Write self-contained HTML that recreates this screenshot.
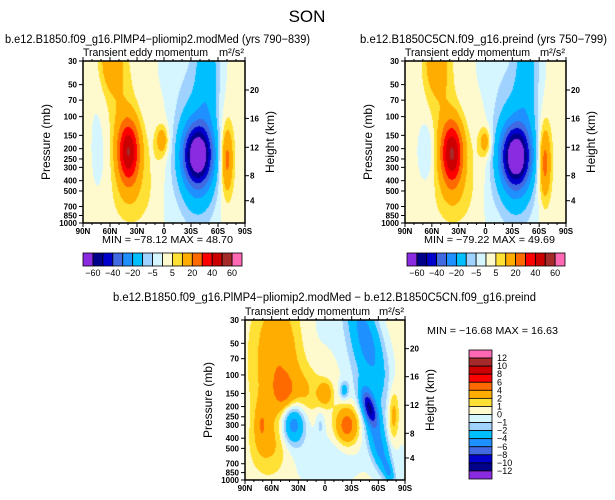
<!DOCTYPE html>
<html><head><meta charset="utf-8">
<style>
body{margin:0;background:#fff;width:615px;height:500px;overflow:hidden;position:relative;font-family:"Liberation Sans",sans-serif}
canvas{position:absolute}
svg{position:absolute;left:0;top:0}
text{font-family:"Liberation Sans",sans-serif}
</style></head>
<body>
<canvas id="c1" width="162" height="162" style="left:83px;top:61px"></canvas>
<canvas id="c2" width="161" height="162" style="left:405px;top:61px"></canvas>
<canvas id="c3" width="160" height="160" style="left:245px;top:320px"></canvas>
<svg id="ov" width="615" height="500"></svg>
<script>
// ---- data ----
const levelsTop=[-60,-50,-40,-30,-20,-10,-5,0,5,10,20,30,40,50,60];
const levelsDiff=[-12,-10,-8,-6,-4,-2,-1,0,1,2,4,6,8,10,12];
const colors=['#8a2be2','#00008b','#0000cd','#4169e1','#1e90ff','#00bfff','#a0d2ff','#d6f6ff','#fffacd','#ffe135','#ffad00','#ff6a00','#ff0000','#cc0000','#a52a2a','#ff69b4'];
const topLabels=['-60','-40','-20','-5','5','20','40','60'];
const diffLabels=['12','10','8','6','4','2','1','0','-1','-2','-4','-6','-8','-10','-12'];
const latLabels=['90N','60N','30N','0','30S','60S','90S'];
const presTicks=[30,50,70,100,150,200,250,300,400,500,700,850,1000];
const heightTicks=[4,8,12,16,20];
const leftBase=1;
const leftCx=[0.28,0.17,0.22,0.30,0.49,0.47,0.71,0.71,0.77,0.65,0.89,0.89,0.10,0.52];
const leftCy=[0.56,0.00,0.20,0.85,0.49,0.55,0.58,0.62,0.00,0.10,0.61,0.60,0.50,0.80];
const leftSx=[0.05,0.05,0.07,0.10,0.025,0.05,0.06,0.09,0.05,0.12,0.025,0.05,0.04,0.04];
const leftSy=[0.14,0.12,0.20,0.15,0.06,0.20,0.12,0.25,0.30,0.30,0.14,0.25,0.30,0.20];
const leftAmp=[48,14,7,6,14,4,-55,-25,-15,-4,20,5,-2.5,-2];
const rightBase=1;
const rightCx=[0.29,0.19,0.22,0.30,0.50,0.47,0.69,0.69,0.76,0.63,0.87,0.87,0.13,0.52];
const rightCy=[0.57,0.00,0.20,0.85,0.50,0.55,0.59,0.62,0.00,0.10,0.63,0.60,0.55,0.80];
const rightSx=[0.05,0.05,0.07,0.10,0.025,0.05,0.06,0.09,0.05,0.12,0.025,0.05,0.03,0.04];
const rightSy=[0.14,0.12,0.20,0.15,0.06,0.20,0.12,0.25,0.30,0.30,0.15,0.25,0.12,0.20];
const rightAmp=[49,14,7,6,14,4,-56,-25,-14,-4,21,5,-7,-2];
const diffBase=0.4;
const diffCx=[0.20,0.24,0.10,0.35,0.50,0.30,0.47,0.64,0.78,0.76,0.84,0.90,0.62,0.93,0.50,0.45,0.15,0.78];
const diffCy=[0.25,0.45,0.65,0.45,0.46,0.65,0.65,0.66,0.55,0.10,0.80,0.95,0.44,0.60,0.88,0.05,0.80,0.45];
const diffSx=[0.10,0.04,0.03,0.10,0.03,0.05,0.02,0.05,0.03,0.065,0.04,0.02,0.02,0.025,0.15,0.1,0.08,0.09];
const diffSy=[0.28,0.07,0.10,0.10,0.05,0.09,0.06,0.08,0.08,0.22,0.12,0.05,0.04,0.12,0.12,0.15,0.12,0.35];
const diffAmp=[3.4,2.2,2.5,1.5,3,-6,-1.5,5,-9,-4.5,-4,-3,-3,3,-1.2,-0.5,1.5,-1.8];
const diffSkew=0.25;
function field(x,y,base,cx,cy,sx,sy,a,skew){
  let v=base;
  for(let i=0;i<cx.length;i++){
    let xx=x; if(skew && a[i]<0 && cx[i]>0.7) xx=x-skew*(y-cy[i]);
    const dx=(xx-cx[i])/sx[i],dy=(y-cy[i])/sy[i];
    v+=a[i]*Math.exp(-0.5*(dx*dx+dy*dy));
  }
  return v;
}
function hex(c){return [parseInt(c.substr(1,2),16),parseInt(c.substr(3,2),16),parseInt(c.substr(5,2),16)];}
const rgb=colors.map(hex);
function paint(id,levels,base,cx,cy,sx,sy,a,skew){
  const cv=document.getElementById(id),ctx=cv.getContext('2d');
  const W=cv.width,H=cv.height,img=ctx.createImageData(W,H);
  for(let j=0;j<H;j++)for(let i=0;i<W;i++){
    const v=field(i/(W-1),j/(H-1),base,cx,cy,sx,sy,a,skew);
    let k=0;while(k<levels.length&&v>=levels[k])k++;
    const c=rgb[k],p=(j*W+i)*4;
    img.data[p]=c[0];img.data[p+1]=c[1];img.data[p+2]=c[2];img.data[p+3]=255;
  }
  ctx.putImageData(img,0,0);
}
paint('c1',levelsTop,leftBase,leftCx,leftCy,leftSx,leftSy,leftAmp,0);
paint('c2',levelsTop,rightBase,rightCx,rightCy,rightSx,rightSy,rightAmp,0);
paint('c3',levelsDiff,diffBase,diffCx,diffCy,diffSx,diffSy,diffAmp,diffSkew);
const NS='http://www.w3.org/2000/svg',ov=document.getElementById('ov');
function el(tag,at,txt){const e=document.createElementNS(NS,tag);for(const k in at)e.setAttribute(k,at[k]);if(txt!==undefined)e.textContent=txt;ov.appendChild(e);return e;}
function txt(x,y,s,size,anchor,name,extra){
  const t=el('text',Object.assign({x:x,y:y,'font-size':size,'text-anchor':anchor||'start',fill:'#000'},extra||{}),s);
  
  
  return t;
}
function fit(x,y,s,size,len,name){
  return txt(x,y,s,size,'start',name,{textLength:len,lengthAdjust:'spacingAndGlyphs','xml:space':'preserve'});
}
const hKm={4:200.7,8:175.7,12:147.3,16:118.4,20:90};
function axes(L,T,W,H,pfx){
  const fr=el('rect',{x:L,y:T,width:W,height:H,fill:'none',stroke:'#000','stroke-width':1.5});
  
  
  const yOf=p=>T+H*Math.log(p/30)/Math.log(1000/30);
  presTicks.forEach(p=>{
    const y=yOf(p);
    el('line',{x1:L-4,x2:L,y1:y,y2:y,stroke:'#000'});
    txt(L-6,y+3,String(p),8,'end',pfx+'-pressure-tick',{'font-weight':'bold'});
  });
  for(let i=0;i<7;i++){
    const x=L+W*i/6;
    el('line',{x1:x,x2:x,y1:T+H,y2:T+H+4,stroke:'#000'});
    el('line',{x1:x,x2:x,y1:T-4,y2:T,stroke:'#000'});
    for(let m=1;m<3&&i<6;m++){const xm=x+W*m/18;el('line',{x1:xm,x2:xm,y1:T+H,y2:T+H+2,stroke:'#000'});el('line',{x1:xm,x2:xm,y1:T-2,y2:T,stroke:'#000'});}
    txt(x,T+H+11,latLabels[i],8,'middle',pfx+'-lat-tick',{'font-weight':'bold'});
  }
  heightTicks.forEach(h=>{
    const y=T+(hKm[h]-61)*H/162;
    el('line',{x1:L+W,x2:L+W+4,y1:y,y2:y,stroke:'#000'});
    txt(L+W+5,y+3,String(h),8,'start',pfx+'-height-tick',{'font-weight':'bold'});
  });
  txt(L-33,T+H/2,'Pressure (mb)',12,'middle',pfx+'-y-axis-title',{transform:`rotate(-90 ${L-33} ${T+H/2})`});
  txt(L+W+29,T+H/2,'Height (km)',12,'middle',pfx+'-y2-axis-title',{transform:`rotate(-90 ${L+W+29} ${T+H/2})`});
  fit(L,T-5,'Transient eddy momentum',11,125,pfx+'-variable-title');
  txt(L+W-1,T-5,'m²/s²',11,'end',pfx+'-units');
}
axes(83,61,162,162,'left');
axes(405,61,161,162,'right');
axes(245,320,160,160,'diff');
txt(307,22,'SON',17,'middle','main-title');
fit(5,43,'b.e12.B1850.f09_g16.PlMP4−pliomip2.modMed (yrs 790−839)',11.5,305,'left-run-title');
fit(360,43,'b.e12.B1850C5CN.f09_g16.preind (yrs 750−799)',11.5,247,'right-run-title');
fit(113,301,'b.e12.B1850.f09_g16.PlMP4−pliomip2.modMed − b.e12.B1850C5CN.f09_g16.preind',11.5,423,'diff-run-title');
fit(102,243,'MIN = −78.12   MAX =  48.70',10,131,'left-minmax');
fit(424,243,'MIN = −79.22   MAX =  49.69',10,131,'right-minmax');
fit(427,334,'MIN = −16.68   MAX =  16.63',10,131,'diff-minmax');
function hbar(L,T,W,H,pfx){
  const bw=W/16;
  for(let i=0;i<16;i++){
    const r=el('rect',{x:L+i*bw,y:T,width:bw,height:H,fill:colors[i],stroke:'#000','stroke-width':0.8});
    
    
  }
  topLabels.forEach((s,k)=>txt(L+bw*(2*k+1),T+H+10,s.replace('-','−'),9,'middle',pfx+'-colorbar-label'));
}
hbar(83,253,159,13,'left');
hbar(407,253,158,13,'right');
const vb=129/16;
for(let i=0;i<16;i++){
  const r=el('rect',{x:469,y:350+i*vb,width:23,height:vb,fill:colors[15-i],stroke:'#000','stroke-width':0.8});
  
  
}
diffLabels.forEach((s,k)=>txt(497,350+vb*(k+1)+3,s.replace('-','−'),9,'start','diff-colorbar-label'));
</script>
</body></html>
